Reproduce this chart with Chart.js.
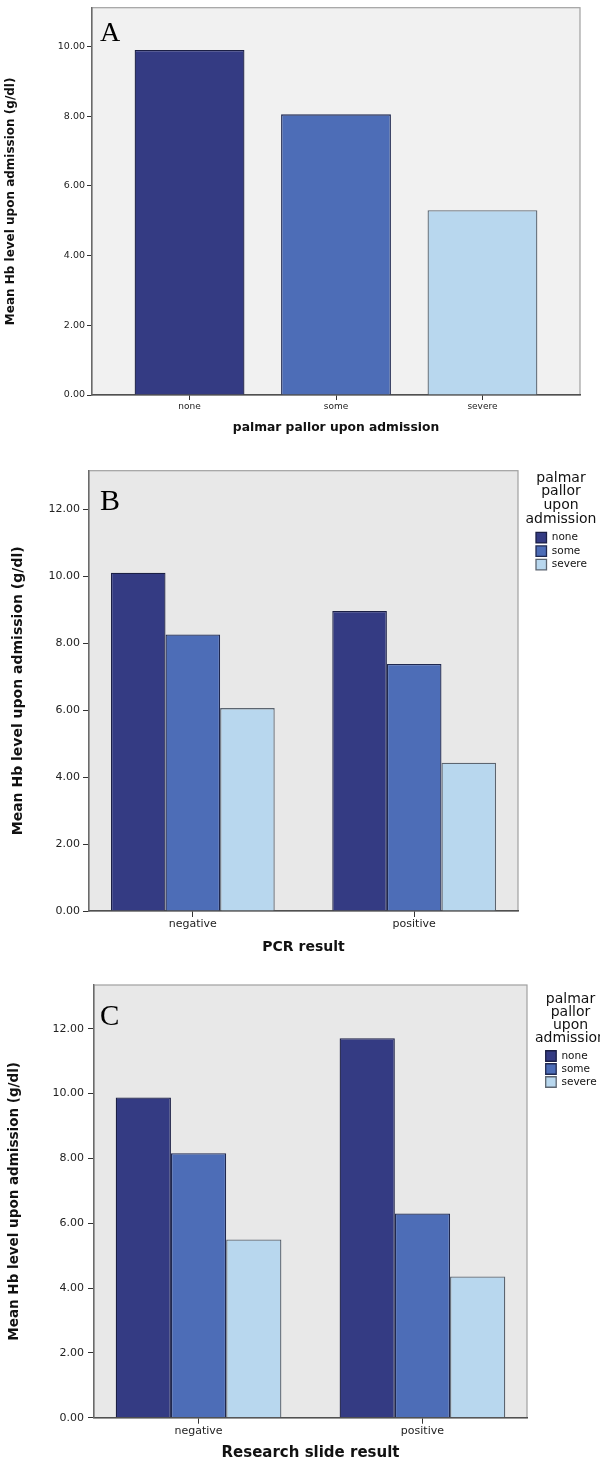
<!DOCTYPE html>
<html>
<head>
<meta charset="utf-8">
<title>Mean Hb level upon admission</title>
<script src="https://cdn.jsdelivr.net/npm/chart.js@4.4.0/dist/chart.umd.min.js"></script>
<style>
  body { margin: 0; background: #fff; }
  canvas { position: absolute; left: 0; }
</style>
</head>
<body>
<canvas id="chartA" width="600" height="440" style="top:0px"></canvas>
<canvas id="chartB" width="600" height="520" style="top:440px"></canvas>
<canvas id="chartC" width="600" height="515" style="top:960px"></canvas>
<script>
/* -----------data------------- */
const pallorLevels = ['none', 'some', 'severe'];
const resultGroups = ['negative', 'positive'];

// A: mean Hb by palmar pallor
const hbByPallor = [9.9, 8.05, 5.3];

// B: by PCR result (negative, positive)
const pcrNone = [10.1, 8.96];
const pcrSome = [8.26, 7.38];
const pcrSevere = [6.06, 4.43];

// C: by research slide result (negative, positive)
const slideNone = [9.88, 11.71];
const slideSome = [8.16, 6.30];
const slideSevere = [5.50, 4.36];

const yTitle = 'Mean Hb level upon admission (g/dl)';
const legendTitle = ['palmar', 'pallor', 'upon', 'admission'];

/* -----------styles------------- */
const pallorColors = ['#343b83', '#4d6db7', '#b8d7ee'];
const pallorBorders = ['#1b1f45', '#1f2850', '#5c6570'];

Chart.defaults.font.family = '"DejaVu Sans", sans-serif';
Chart.defaults.color = '#222';

const toPoints = vals => vals.map((v, i) => ({ x: i, y: v }));

// plot background, light frame, panel letter and the legend heading
const framePlugin = {
  id: 'frame',
  beforeDraw(chart, args, opts) {
    const { ctx, chartArea: a } = chart;
    ctx.save();
    ctx.fillStyle = opts.fill;
    ctx.fillRect(a.left, a.top, a.width, a.height);
    ctx.strokeStyle = '#a0a0a0';
    ctx.lineWidth = 1.2;
    ctx.strokeRect(a.left, a.top, a.width, a.height);
    ctx.restore();
  },
  afterDraw(chart, args, opts) {
    const { ctx, chartArea: a } = chart;
    ctx.save();
    ctx.font = opts.letterSize + 'px "Liberation Serif", serif';
    ctx.fillStyle = '#000';
    ctx.textBaseline = 'alphabetic';
    ctx.fillText(opts.letter, a.left + opts.letterX, a.top + opts.letterY);

    const head = opts.heading;
    if (head && chart.legend) {
      const lg = chart.legend;
      ctx.font = '14px "DejaVu Sans", sans-serif';
      ctx.fillStyle = '#111';
      ctx.textAlign = 'center';
      ctx.textBaseline = 'middle';
      head.lines.forEach((line, i) => {
        ctx.fillText(line, lg.left + lg.width / 2, lg.top + head.dy + i * head.lh);
      });
    }
    ctx.restore();
  }
};

function panel(id, cats, datasets, c) {
  const scales = {
    x: {
      type: 'linear',
      min: -c.xPad,
      max: cats.length - 1 + c.xPad,
      offset: false,
      afterBuildTicks: s => { s.ticks = cats.map((name, i) => ({ value: i })); },
      afterFit: s => { s.height = c.xHeight; },
      ticks: {
        callback: v => cats[v],
        font: { size: c.xTickSize },
        padding: c.xTickPad,
        autoSkip: false,
        maxRotation: 0
      },
      grid: { drawOnChartArea: false, tickLength: c.tick, color: '#333', offset: false },
      border: { color: '#505050', width: 1.4 },
      title: {
        display: true,
        text: c.xTitle,
        color: '#111',
        font: { size: c.xTitleSize, weight: 'bold' },
        padding: { top: 0, bottom: c.xTitlePad }
      }
    },
    y: {
      min: 0,
      max: c.yMax,
      afterFit: s => { s.width = c.yWidth; },
      ticks: {
        stepSize: 2,
        includeBounds: false,
        callback: v => v.toFixed(2),
        font: { size: c.yTickSize },
        padding: c.yTickPad
      },
      grid: { drawOnChartArea: false, tickLength: c.tick, color: '#333' },
      border: { color: '#6a6a6a', width: 1.4 },
      title: {
        display: true,
        text: yTitle,
        color: '#111',
        font: { size: c.yTitleSize, weight: 'bold' },
        padding: { top: c.yTitlePad, bottom: 0 }
      }
    }
  };
  if (c.gap) {
    // empty strip between plot frame and legend
    scales.gap = {
      position: 'right', min: 0, max: 1,
      afterFit: s => { s.width = c.gap; },
      ticks: { display: false },
      grid: { display: false },
      border: { display: false }
    };
  }

  return new Chart(document.getElementById(id), {
    type: 'bar',
    data: { datasets: datasets },
    options: {
      responsive: false,
      animation: false,
      layout: { padding: c.padding },
      datasets: { bar: { categoryPercentage: c.catPct, barPercentage: 1, borderWidth: 1.3 } },
      scales: scales,
      plugins: {
        tooltip: { enabled: false },
        frame: {
          fill: c.bg, letter: c.letter, letterSize: c.letterSize, letterX: c.letterX, letterY: c.letterY,
          heading: c.legend ? { lines: legendTitle, dy: c.legend.dy, lh: c.legend.lh } : null
        },
        legend: c.legend ? {
          display: true,
          position: 'right',
          align: 'start',
          maxWidth: c.legend.width,
          // heading itself is drawn by the frame plugin (legend box would clip it)
          title: {
            display: true,
            text: '',
            font: { size: 14, lineHeight: 1 },
            padding: { top: 0, bottom: c.legend.space }
          },
          labels: { boxWidth: 10.5, boxHeight: 10.5, padding: c.legend.pad, color: '#111', font: { size: 10.5 } }
        } : { display: false }
      }
    },
    plugins: [framePlugin]
  });
}

function groupSets(none, some, severe) {
  return [none, some, severe].map((vals, i) => ({
    label: pallorLevels[i],
    data: toPoints(vals),
    backgroundColor: pallorColors[i],
    borderColor: pallorBorders[i]
  }));
}

/* -----------A------------- */
panel('chartA', pallorLevels, [{
  label: 'Mean Hb',
  data: toPoints(hbByPallor),
  backgroundColor: pallorColors,
  borderColor: pallorBorders
}], {
  yMax: 11.11, yWidth: 92, xHeight: 45, xPad: 0.666, catPct: 0.75,
  padding: { top: 6, right: 20, left: 0, bottom: 0 },
  tick: 5, xTickSize: 9, xTickPad: 1.5, yTickSize: 9.5, yTickPad: 2,
  xTitle: 'palmar pallor upon admission', xTitleSize: 12.3, xTitlePad: 4.9,
  yTitleSize: 12, yTitlePad: 4,
  bg: '#f1f1f1', letter: 'A', letterSize: 28, letterX: 8, letterY: 33
});

/* -----------B------------- */
panel('chartB', resultGroups, groupSets(pcrNone, pcrSome, pcrSevere), {
  yMax: 13.15, yWidth: 89, xHeight: 49, xPad: 0.469, catPct: 0.74,
  padding: { top: 30.7, right: 11, left: 0, bottom: 0 }, gap: 15,
  tick: 6, xTickSize: 11, xTickPad: 1, yTickSize: 11, yTickPad: 3,
  xTitle: 'PCR result', xTitleSize: 14, xTitlePad: 4.6,
  yTitleSize: 14, yTitlePad: 10,
  bg: '#e8e8e8', letter: 'B', letterSize: 30, letterX: 11, letterY: 39,
  legend: { width: 56, dy: 7.3, lh: 13.7, space: 44.75, pad: 3 }
});

/* -----------C------------- */
panel('chartC', resultGroups, groupSets(slideNone, slideSome, slideSevere), {
  yMax: 13.35, yWidth: 94, xHeight: 57.3, xPad: 0.467, catPct: 0.74,
  padding: { top: 25, right: 2.2, left: 0, bottom: 0 }, gap: 16.2,
  tick: 6, xTickSize: 11, xTickPad: 1, yTickSize: 11, yTickPad: 4,
  xTitle: 'Research slide result', xTitleSize: 15, xTitlePad: 13,
  yTitleSize: 13.5, yTitlePad: 6.6,
  bg: '#e8e8e8', letter: 'C', letterSize: 29, letterX: 6, letterY: 40,
  legend: { width: 54.6, dy: 14, lh: 13, space: 49.25, pad: 2.5 }
});
</script>
</body>
</html>
